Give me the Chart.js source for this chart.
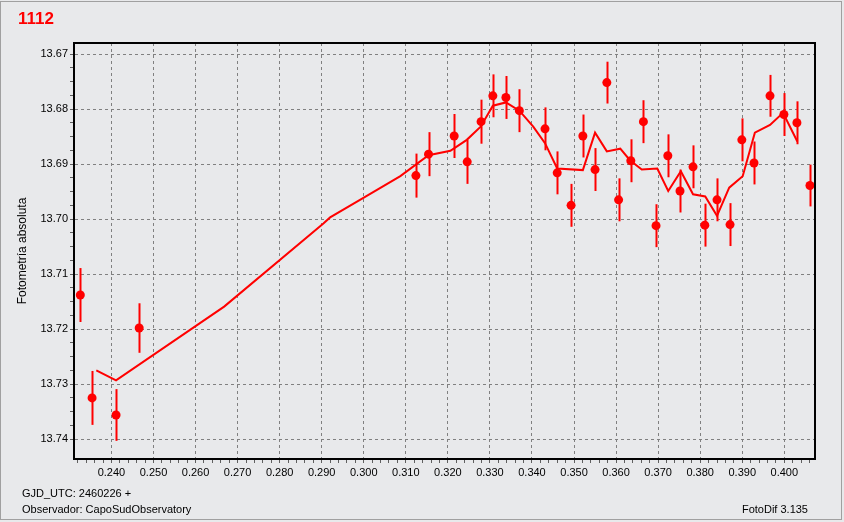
<!DOCTYPE html>
<html>
<head>
<meta charset="utf-8">
<script src="https://cdn.jsdelivr.net/npm/chart.js@4/dist/chart.umd.min.js"></script>
<style>
	body { margin: 0; background: #ffffff; }
	#wrap { position: relative; width: 844px; height: 522px; background: #e8e9eb; }
	#frame { position: absolute; left: 0; top: 1px; width: 840px; height: 517px; border: 1px solid #a0a0a0; pointer-events: none; }
	.txt { position: absolute; font-family: "Liberation Sans", Arial, sans-serif; font-size: 11px; color: #000; white-space: nowrap; }
	#titulo { left: 18px; top: 9px; font-size: 17px; font-weight: bold; color: #ff0000; }
	canvas { position: absolute; left: 0; top: 0; }
</style>
</head>
<body>
<div id="wrap">
	<canvas id="grafico" width="844" height="522"></canvas>
	<div id="frame"></div>
	<div class="txt" id="titulo">1112</div>
	<div class="txt" style="left:22px; top:487px;">GJD_UTC: 2460226 +</div>
	<div class="txt" style="left:22px; top:503px;">Observador: CapoSudObservatory</div>
	<div class="txt" style="right:36px; top:503px;">FotoDif 3.135</div>
</div>
<script>
// observaciones (fase GJD, magnitud, error)
const obsX = [0.2326, 0.2354, 0.2411, 0.2466, 0.3124, 0.3154, 0.3215, 0.3246, 0.3279, 0.3307,
	0.3338, 0.3370, 0.3431, 0.3460, 0.3493, 0.3521, 0.3550, 0.3578, 0.3606, 0.3635,
	0.3665, 0.3695, 0.3723, 0.3752, 0.3783, 0.3811, 0.3840, 0.3871, 0.3899, 0.3928,
	0.3966, 0.3999, 0.4030, 0.4061];
const obsY = [13.7138, 13.7325, 13.7356, 13.7198, 13.6921, 13.6882, 13.6849, 13.6896, 13.6823, 13.6776,
	13.6779, 13.6803, 13.6836, 13.6916, 13.6975, 13.6849, 13.6910, 13.6752, 13.6965, 13.6894,
	13.6823, 13.7012, 13.6885, 13.6949, 13.6905, 13.7011, 13.6965, 13.7010, 13.6856, 13.6898,
	13.6776, 13.6810, 13.6825, 13.6939];
const obsErr = [0.0049, 0.0049, 0.0047, 0.0045, 0.0040, 0.0040, 0.0040, 0.0040, 0.0040, 0.0039,
	0.0039, 0.0039, 0.0039, 0.0039, 0.0039, 0.0039, 0.0039, 0.0038, 0.0039, 0.0039,
	0.0039, 0.0039, 0.0039, 0.0039, 0.0039, 0.0039, 0.0039, 0.0039, 0.0039, 0.0039,
	0.0038, 0.0039, 0.0039, 0.0038];

// curva media
const mediaX = [0.2364, 0.2411, 0.2668, 0.2904, 0.2920, 0.2991, 0.3087, 0.3154, 0.3206, 0.3245,
	0.3278, 0.3307, 0.3338, 0.3370, 0.3403, 0.3431, 0.3460, 0.3521, 0.3550, 0.3578,
	0.3610, 0.3633, 0.3661, 0.3698, 0.3724, 0.3754, 0.3783, 0.3812, 0.3840, 0.3869,
	0.3901, 0.3930, 0.3966, 0.3997, 0.4031];
const mediaY = [13.7275, 13.7293, 13.7159, 13.7008, 13.6997, 13.6965, 13.6922, 13.6884, 13.6876, 13.6856,
	13.6832, 13.6794, 13.6788, 13.6803, 13.6832, 13.6862, 13.6908, 13.6911, 13.6843, 13.6877,
	13.6872, 13.6893, 13.6910, 13.6908, 13.6949, 13.6913, 13.6955, 13.6959, 13.6994, 13.6943,
	13.6922, 13.6843, 13.6829, 13.6807, 13.6859];

// ticks: x cada 0.002 (etiqueta cada 0.010), y cada 0.0025 (etiqueta cada 0.01)
const xTicks = [];
for (let k = 116; k <= 203; k++) xTicks.push(k / 500);
const yTicks = [];
for (let k = 0; k <= 28; k++) yTicks.push((5468 + k) / 400);

const rojo = '#ff0000';
const esMayorX = v => Math.abs(v * 100 - Math.round(v * 100)) < 1e-6;
const esMayorY = v => Math.abs(v * 100 - Math.round(v * 100)) < 1e-6;

// barras de error + marco del area
const errorBars = {
	id: 'errorBars',
	beforeDatasetsDraw(chart) {
		const ctx = chart.ctx;
		const sx = chart.scales.x, sy = chart.scales.y;
		ctx.save();
		ctx.strokeStyle = rojo;
		ctx.lineWidth = 2;
		for (let i = 0; i < obsX.length; i++) {
			const px = Math.round(sx.getPixelForValue(obsX[i])) + 0.5;
			ctx.beginPath();
			ctx.moveTo(px, sy.getPixelForValue(obsY[i] - obsErr[i]));
			ctx.lineTo(px, sy.getPixelForValue(obsY[i] + obsErr[i]));
			ctx.stroke();
		}
		ctx.restore();
	},
	afterDraw(chart) {
		const a = chart.chartArea, ctx = chart.ctx;
		ctx.save();
		ctx.strokeStyle = '#000';
		ctx.lineWidth = 2;
		ctx.strokeRect(a.left, a.top, a.right - a.left, a.bottom - a.top);
		ctx.restore();
	}
};

Chart.defaults.font.family = '"Liberation Sans", Arial, sans-serif';
Chart.defaults.font.size = 11;
Chart.defaults.color = '#000';

new Chart(document.getElementById('grafico'), {
	type: 'scatter',
	data: {
		datasets: [
			{
				label: 'media',
				data: mediaX.map((x, i) => ({ x: x, y: mediaY[i] })),
				showLine: true,
				borderColor: rojo,
				borderWidth: 2,
				pointRadius: 0,
				tension: 0,
				clip: false,
			},
			{
				label: 'obs',
				data: obsX.map((x, i) => ({ x: x, y: obsY[i] })),
				backgroundColor: rojo,
				borderWidth: 0,
				pointRadius: 4.5,
				clip: false,
			},
		]
	},
	options: {
		responsive: false,
		animation: false,
		devicePixelRatio: 1,
		layout: { padding: { left: 0, top: 43, right: 29, bottom: 0 } },
		plugins: { legend: { display: false }, tooltip: { enabled: false } },
		scales: {
			x: {
				type: 'linear',
				min: 0.2311,
				max: 0.4073,
				afterBuildTicks: s => { s.ticks = xTicks.map(v => ({ value: v })); },
				afterFit: s => { s.height = 63; },
				ticks: {
					autoSkip: false,
					maxRotation: 0,
					padding: 3,
					callback: v => esMayorX(v) ? v.toFixed(3) : '',
				},
				grid: {
					color: c => esMayorX(c.tick.value) ? '#808080' : 'rgba(0,0,0,0)',
					tickColor: '#606060',
					tickLength: 4,
					lineWidth: 1,
				},
				border: { color: '#000', width: 2, dash: [3, 3] },
			},
			y: {
				type: 'linear',
				reverse: true,
				min: 13.668,
				max: 13.7436,
				afterBuildTicks: s => { s.ticks = yTicks.map(v => ({ value: v })); },
				afterFit: s => { s.width = 74; },
				ticks: {
					autoSkip: false,
					padding: 2,
					callback: v => esMayorY(v) ? v.toFixed(2) : '',
				},
				grid: {
					color: c => esMayorY(c.tick.value) ? '#808080' : 'rgba(0,0,0,0)',
					tickColor: '#606060',
					tickLength: 4,
					lineWidth: 1,
				},
				border: { color: '#000', width: 2, dash: [3, 3] },
				title: {
					display: true,
					text: 'Fotometría absoluta',
					font: { size: 12 },
					padding: { top: 15, bottom: 0 },
				},
			},
		}
	},
	plugins: [errorBars]
});
</script>
</body>
</html>
